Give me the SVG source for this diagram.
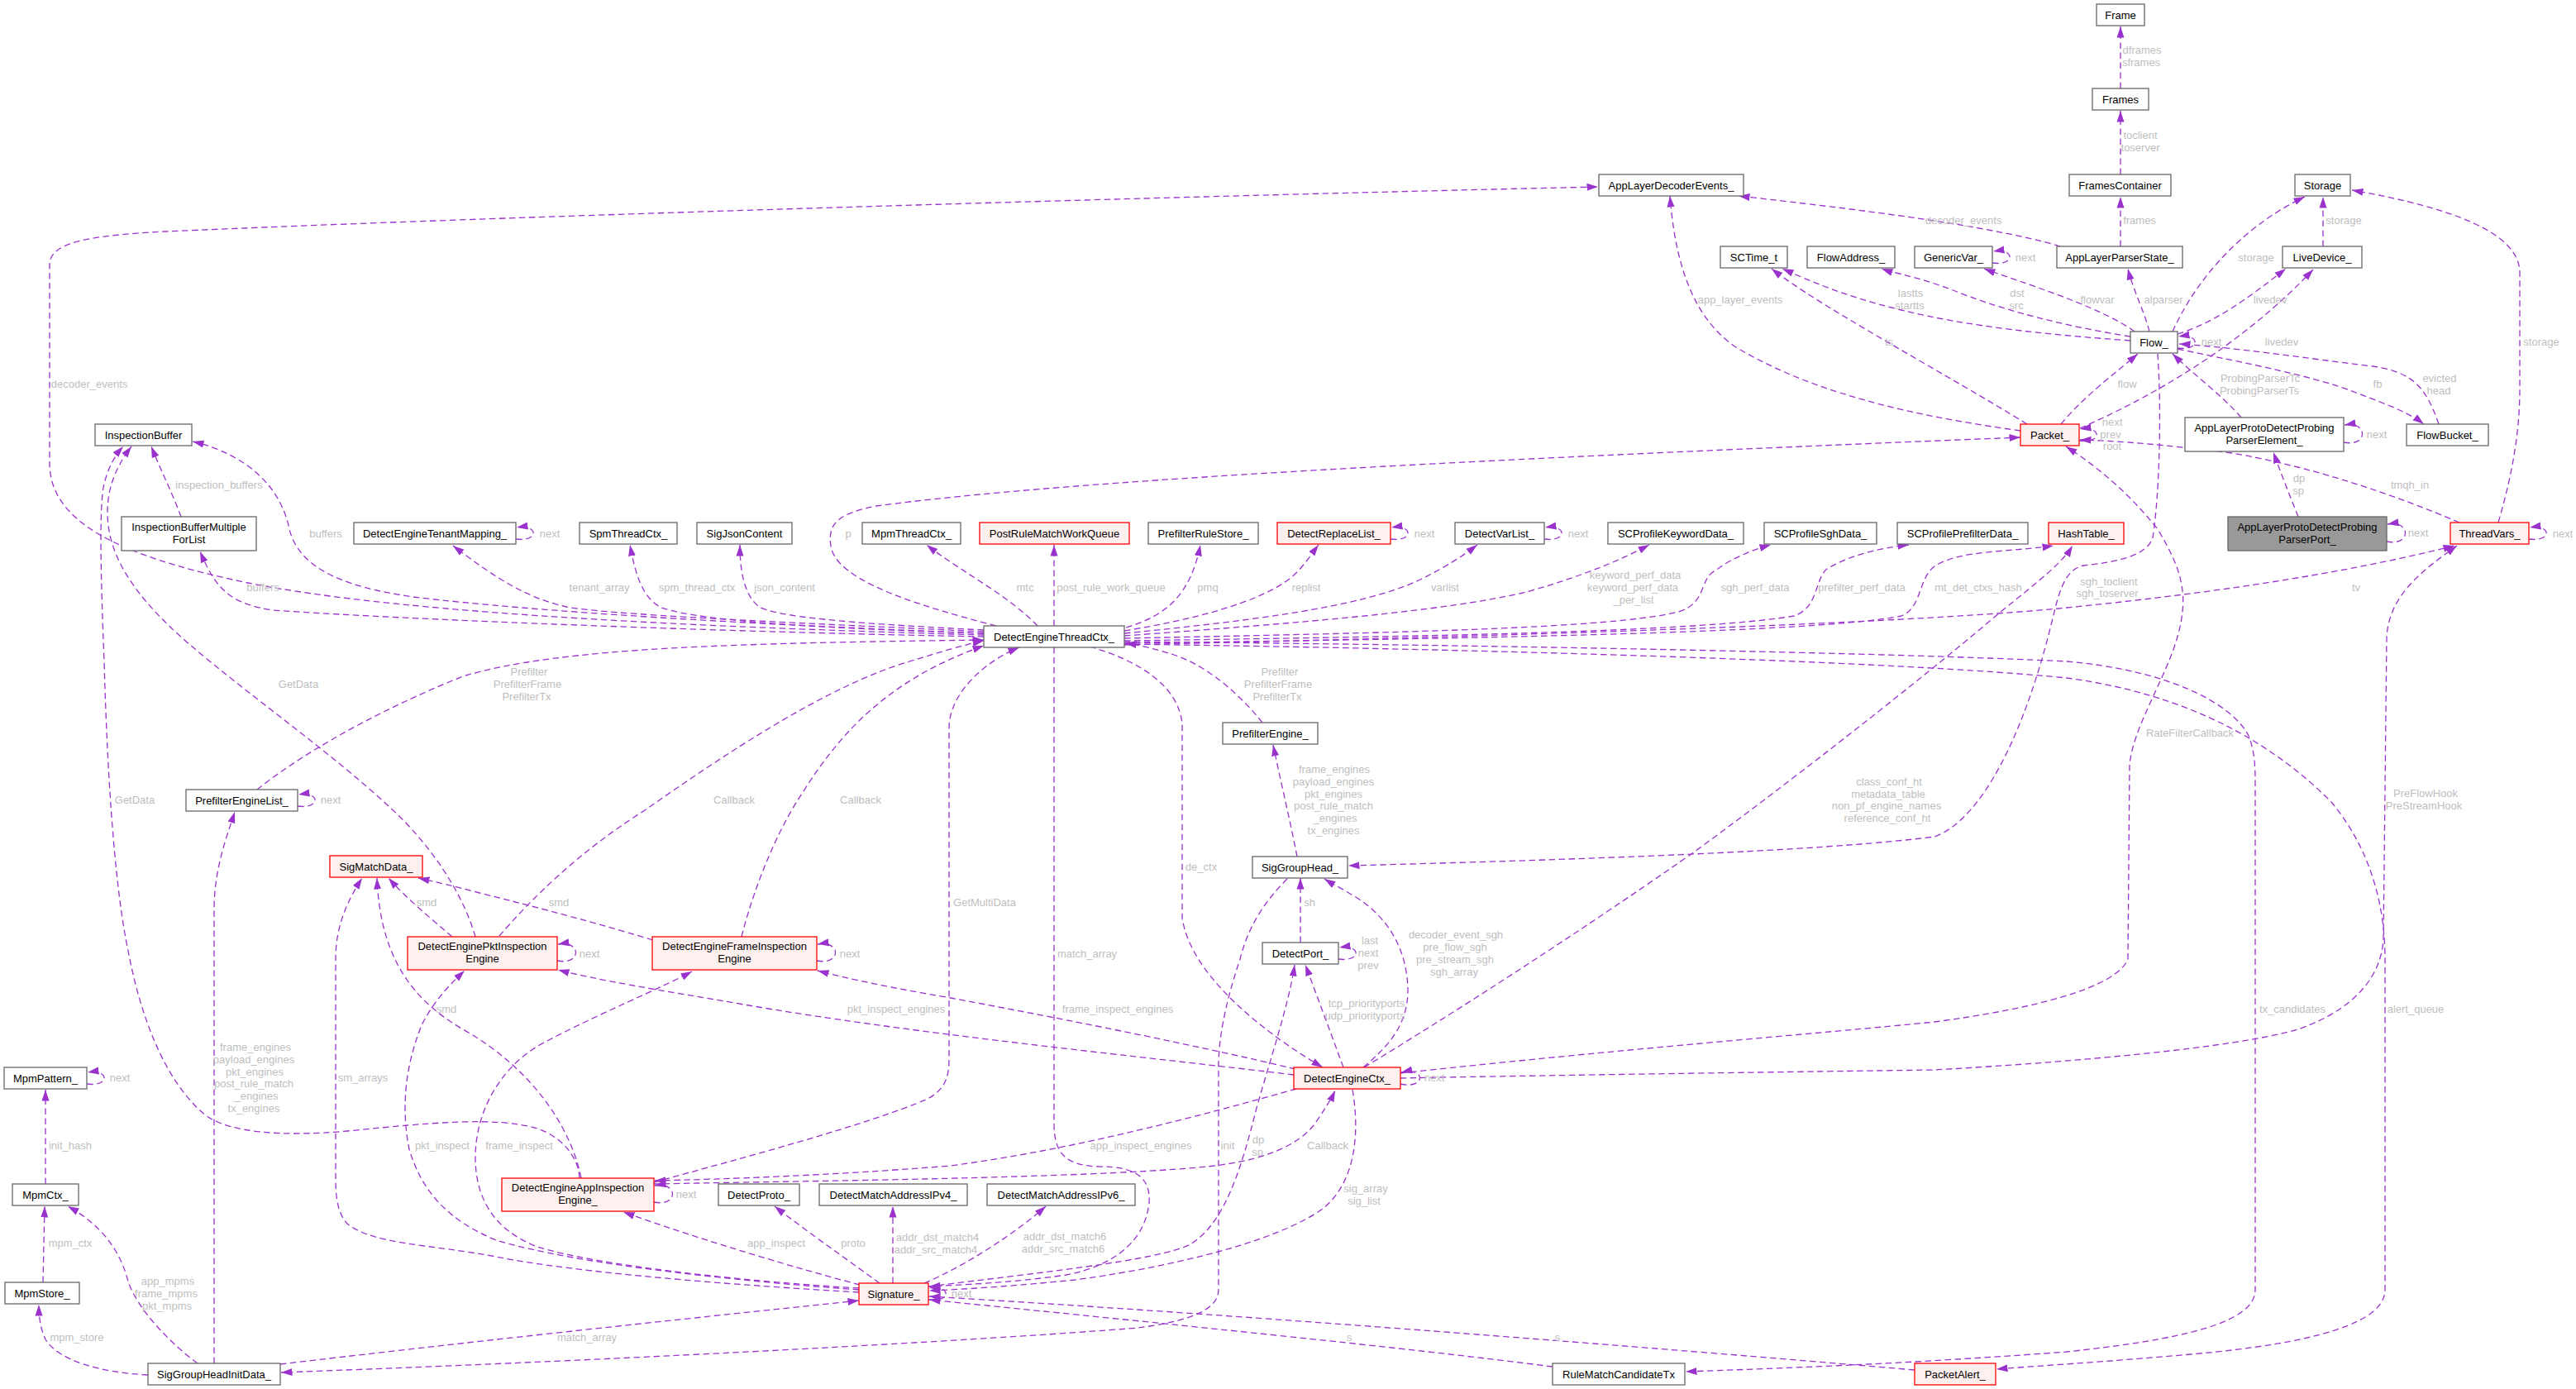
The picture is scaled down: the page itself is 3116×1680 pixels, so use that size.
<svg xmlns="http://www.w3.org/2000/svg" width="3116" height="1680" viewBox="0 0 3116 1680">
<style>
.nd rect{fill:#ffffff;stroke:#666666;stroke-width:1.3}
.nd.r rect{fill:#fff0f0;stroke:#ff0000}
.nd.g rect{fill:#999999;stroke:#666666}
.nd text{font-family:"Liberation Sans",Arial,sans-serif;font-size:13px;fill:#000000;text-anchor:middle}
#edges path{fill:none;stroke:#9a32cd;stroke-width:1.3;stroke-dasharray:7.5,4.5;marker-end:url(#ah)}
#labels text{font-family:"Liberation Sans",Arial,sans-serif;font-size:13px;fill:#bebebe;text-anchor:middle}
</style>
<defs>
<marker id="ah" viewBox="0 0 14 10" refX="13.5" refY="5" markerWidth="14" markerHeight="10" orient="auto" markerUnits="userSpaceOnUse"><path d="M0,0.5 L13.5,5 L0,9.5 z" fill="#9a32cd"/></marker>
</defs>
<rect width="3116" height="1680" fill="#ffffff"/>
<g id="edges">
<path d="M2565,107 L2565,32"/>
<path d="M2565,211 L2565,134"/>
<path d="M2565,298 L2565,238"/>
<path d="M2492,298 C2400,270 2200,248 2103,237"/>
<path d="M2810,298 L2810,238"/>
<path d="M2628,401 C2660,330 2720,270 2788,238"/>
<path d="M3022,632 C3040,570 3048,520 3048,470 L3048,330 C3048,280 2960,250 2845,230"/>
<path d="M2577,412 C2480,405 2380,395 2300,375 C2230,358 2190,340 2156,325"/>
<path d="M2452,513 C2350,450 2200,370 2143,325"/>
<path d="M2577,407 C2500,395 2420,375 2360,350 C2320,335 2290,330 2276,325"/>
<path d="M2582,401 C2540,370 2440,340 2400,325"/>
<path d="M2410,318 C2438,322 2438,300 2411,304"/>
<path d="M2600,401 C2595,380 2580,350 2574,325"/>
<path d="M2634,404 C2680,390 2720,360 2765,325"/>
<path d="M2516,518 C2580,490 2700,430 2798,326"/>
<path d="M2634,421 C2662,425 2662,403 2635,407"/>
<path d="M2493,513 C2520,480 2560,450 2586,428"/>
<path d="M2711,505 C2690,480 2650,450 2628,428"/>
<path d="M2950,513 C2935,470 2920,450 2870,443 C2780,432 2700,420 2636,416"/>
<path d="M2634,422 C2720,440 2800,455 2850,475 C2890,490 2915,500 2932,513"/>
<path d="M2515,533 C2543,537 2543,515 2516,519"/>
<path d="M2444,521 C2330,505 2200,480 2100,420 C2040,380 2025,300 2020,237"/>
<path d="M1190,768 C900,760 500,745 300,705 C140,672 60,630 60,560 L60,320 C60,295 100,285 200,280 C600,262 1400,238 1933,226"/>
<path d="M1205,757 C1100,730 1010,700 1005,660 C1000,630 1020,620 1060,612 C1300,580 1800,555 2444,529"/>
<path d="M2975,632 C2900,600 2800,565 2700,548 C2620,538 2560,533 2516,532"/>
<path d="M2835,535 C2865,541 2865,509 2836,514"/>
<path d="M2780,625 C2770,600 2758,570 2750,547"/>
<path d="M2887,655 C2917,661 2917,629 2888,634"/>
<path d="M3059,652 C3087,656 3087,634 3060,638"/>
<path d="M1190,766 C900,755 650,740 500,722 C400,708 360,680 350,640 C340,590 300,550 233,534"/>
<path d="M1190,770 C900,765 500,750 330,738 C280,730 262,715 242,667"/>
<path d="M219,625 C210,600 195,570 183,540"/>
<path d="M1190,764 C1000,755 760,745 690,735 C640,725 600,700 548,660"/>
<path d="M624,652 C652,656 652,634 625,638"/>
<path d="M1190,766 C1000,760 850,752 800,735 C775,722 768,690 762,659"/>
<path d="M1190,762 C1050,755 950,748 920,735 C900,722 895,690 895,659"/>
<path d="M1255,757 C1220,720 1160,690 1121,659"/>
<path d="M1275,757 L1275,659"/>
<path d="M1362,759 C1410,745 1440,720 1452,659"/>
<path d="M1360,763 C1440,750 1520,730 1560,700 C1575,688 1585,672 1595,659"/>
<path d="M1682,652 C1710,656 1710,634 1683,638"/>
<path d="M1360,766 C1500,752 1650,735 1720,700 C1750,685 1770,672 1787,659"/>
<path d="M1868,652 C1896,656 1896,634 1869,638"/>
<path d="M1360,769 C1550,755 1750,740 1850,715 C1920,695 1965,675 1995,659"/>
<path d="M1360,772 C1700,765 1950,760 2030,740 C2065,730 2055,700 2075,690 C2095,675 2120,665 2142,659"/>
<path d="M1360,775 C1700,770 2050,765 2170,745 C2200,735 2195,700 2210,688 C2240,670 2280,662 2309,659"/>
<path d="M1360,778 C1800,772 2200,765 2300,745 C2325,735 2320,700 2340,685 C2370,665 2430,668 2484,660"/>
<path d="M1360,780 C1800,770 2300,755 2500,735 C2700,715 2850,690 2969,660"/>
<path d="M1650,1291 C1800,1200 1950,1100 2050,1030 C2200,920 2350,800 2420,740 C2470,700 2495,680 2507,660"/>
<path d="M2610,428 C2615,500 2612,600 2604,650 C2598,672 2560,680 2520,684 C2495,690 2490,720 2480,760 C2450,880 2400,990 2340,1012 C2200,1030 1900,1040 1631,1047"/>
<path d="M1694,1298 C1950,1270 2200,1250 2340,1236 C2460,1220 2560,1195 2574,1160 L2576,925 C2580,880 2620,820 2634,770 C2648,720 2640,690 2610,640 C2570,590 2530,560 2499,540"/>
<path d="M1694,1304 C1900,1300 2200,1296 2340,1294 C2500,1285 2700,1268 2780,1245 C2850,1220 2880,1180 2883,1137 L2887,770 C2890,720 2930,690 2972,660"/>
<path d="M1318,782 C1380,800 1425,830 1430,875 L1430,1110 C1440,1180 1530,1250 1600,1291"/>
<path d="M791,1430 C900,1400 1050,1360 1120,1330 C1145,1318 1148,1300 1148,1280 L1148,880 C1148,840 1190,800 1233,783"/>
<path d="M604,1132 C640,1090 700,1030 780,980 C880,910 1000,830 1100,800 C1140,788 1165,780 1190,775"/>
<path d="M897,1133 C905,1100 930,1020 970,960 C1020,880 1080,820 1190,781"/>
<path d="M311,955 C380,900 480,850 560,818 C680,782 900,778 1190,774"/>
<path d="M1527,874 C1500,840 1460,805 1420,792 C1400,786 1380,780 1361,778"/>
<path d="M360,975 C388,979 388,957 361,961"/>
<path d="M1569,1036 C1560,990 1548,940 1540,901"/>
<path d="M1573,1140 L1573,1062"/>
<path d="M1619,1160 C1647,1164 1647,1142 1620,1146"/>
<path d="M1649,1291 C1680,1265 1702,1240 1703,1200 C1703,1150 1680,1110 1640,1085 C1620,1073 1610,1068 1602,1063"/>
<path d="M1625,1291 C1610,1250 1595,1210 1579,1167"/>
<path d="M1123,1556 C1250,1540 1400,1525 1440,1505 C1480,1480 1500,1420 1520,1340 C1540,1270 1560,1210 1566,1167"/>
<path d="M1557,1063 C1530,1090 1510,1120 1500,1160 C1480,1220 1474,1260 1474,1290 L1474,1560 C1474,1590 1420,1600 1377,1606 C1200,1620 800,1643 340,1660"/>
<path d="M339,1650 C550,1625 800,1598 1039,1573"/>
<path d="M1275,783 L1275,1360 C1275,1400 1295,1410 1330,1411 C1375,1411 1392,1425 1390,1455 C1385,1500 1350,1530 1290,1542 C1220,1552 1160,1554 1124,1556"/>
<path d="M1123,1572 C1151,1576 1151,1554 1124,1558"/>
<path d="M1064,1552 C1020,1520 970,1485 937,1459"/>
<path d="M1080,1552 L1080,1459"/>
<path d="M1118,1552 C1170,1530 1230,1490 1265,1459"/>
<path d="M1040,1554 C950,1530 850,1500 754,1466"/>
<path d="M1636,1318 C1645,1370 1640,1430 1600,1462 C1540,1505 1400,1535 1300,1548 C1200,1558 1150,1560 1124,1561"/>
<path d="M791,1432 C1000,1428 1300,1425 1450,1412 C1530,1405 1570,1385 1590,1360 C1600,1345 1610,1330 1615,1319"/>
<path d="M1568,1317 C1450,1350 1300,1390 1150,1410 C1000,1422 880,1426 792,1428"/>
<path d="M1565,1300 C1400,1280 1100,1250 900,1215 C800,1198 720,1185 675,1173"/>
<path d="M1567,1293 C1450,1265 1300,1235 1150,1207 C1080,1195 1030,1185 989,1174"/>
<path d="M674,1162 C704,1168 704,1137 675,1142"/>
<path d="M988,1162 C1018,1168 1018,1137 989,1142"/>
<path d="M547,1133 C520,1110 490,1085 470,1062"/>
<path d="M790,1137 C700,1110 620,1090 580,1080 C550,1072 525,1066 506,1062"/>
<path d="M703,1425 C690,1360 640,1290 560,1245 C500,1210 460,1160 456,1062"/>
<path d="M1039,1563 C900,1555 700,1540 600,1520 C520,1505 450,1505 420,1480 C406,1465 406,1440 406,1420 L406,1160 C406,1120 420,1090 438,1062"/>
<path d="M575,1133 C560,1080 520,1020 470,975 C400,910 300,840 230,780 C160,720 130,670 130,620 C130,590 140,565 159,540"/>
<path d="M701,1425 C700,1400 680,1375 650,1365 C600,1350 520,1358 420,1368 C340,1375 280,1370 250,1350 C200,1310 170,1230 155,1150 C140,1080 130,950 126,800 C122,700 120,620 125,590 C130,565 140,550 149,540"/>
<path d="M791,1454 C821,1460 821,1429 792,1434"/>
<path d="M1039,1560 C900,1550 700,1530 600,1500 C540,1475 510,1440 495,1390 C485,1340 490,1290 510,1240 C525,1210 545,1190 562,1174"/>
<path d="M1039,1558 C900,1550 720,1530 650,1508 C590,1485 575,1440 575,1400 C575,1340 610,1285 660,1260 C720,1228 800,1195 837,1175"/>
<path d="M105,1311 C133,1315 133,1293 106,1297"/>
<path d="M55,1432 L55,1318"/>
<path d="M52,1551 L54,1459"/>
<path d="M179,1663 C120,1660 70,1645 55,1620 C48,1605 47,1590 47,1578"/>
<path d="M239,1649 C200,1620 165,1580 155,1550 C145,1510 120,1480 82,1459"/>
<path d="M259,1649 L259,1100 C259,1050 275,1010 284,982"/>
<path d="M1878,1653 C1700,1630 1400,1600 1124,1572"/>
<path d="M2316,1657 C2000,1630 1500,1590 1124,1568"/>
<path d="M1360,776 C1800,780 2300,790 2500,800 C2620,810 2700,850 2720,890 C2728,910 2728,930 2728,950 L2728,1560 C2728,1600 2640,1620 2500,1635 C2300,1650 2150,1655 2039,1659"/>
<path d="M1360,779 C1800,785 2300,800 2500,820 C2650,840 2750,900 2820,970 C2870,1030 2885,1100 2885,1160 L2885,1560 C2885,1600 2800,1625 2650,1638 C2550,1647 2450,1653 2415,1656"/>
<path d="M1694,1311 C1725,1318 1725,1290 1695,1297"/>
</g>
<g id="labels">
<text x="2591" y="65">dframes</text><text x="2590" y="80">sframes</text>
<text x="2589" y="168">toclient</text><text x="2589" y="183">toserver</text>
<text x="2588" y="271">frames</text>
<text x="2375" y="271">decoder_events</text>
<text x="2835" y="271">storage</text>
<text x="2729" y="316">storage</text>
<text x="3074" y="418">storage</text>
<text x="2311" y="359">lastts</text><text x="2310" y="374">startts</text>
<text x="2285" y="418">ts</text>
<text x="2440" y="359">dst</text><text x="2439" y="374">src</text>
<text x="2537" y="367">flowvar</text>
<text x="2450" y="316">next</text>
<text x="2617" y="367">alparser</text>
<text x="2746" y="367">livedev</text>
<text x="2760" y="418">livedev</text>
<text x="2675" y="418">next</text>
<text x="2573" y="469">flow</text>
<text x="2734" y="462">ProbingParserTc</text><text x="2733" y="477">ProbingParserTs</text>
<text x="2951" y="462">evicted</text><text x="2950" y="477">head</text>
<text x="2876" y="469">fb</text>
<text x="2555" y="515">next</text><text x="2553" y="530">prev</text><text x="2555" y="544">root</text>
<text x="2105" y="367">app_layer_events</text>
<text x="108" y="469">decoder_events</text>
<text x="1026" y="650">p</text>
<text x="2915" y="591">tmqh_in</text>
<text x="2875" y="530">next</text>
<text x="2781" y="583">dp</text><text x="2780" y="598">sp</text>
<text x="2925" y="649">next</text>
<text x="3100" y="650">next</text>
<text x="394" y="650">buffers</text>
<text x="318" y="715">buffers</text>
<text x="265" y="591">inspection_buffers</text>
<text x="725" y="715">tenant_array</text>
<text x="665" y="650">next</text>
<text x="843" y="715">spm_thread_ctx</text>
<text x="949" y="715">json_content</text>
<text x="1240" y="715">mtc</text>
<text x="1344" y="715">post_rule_work_queue</text>
<text x="1461" y="715">pmq</text>
<text x="1580" y="715">replist</text>
<text x="1723" y="650">next</text>
<text x="1748" y="715">varlist</text>
<text x="1909" y="650">next</text>
<text x="1978" y="700">keyword_perf_data</text><text x="1975" y="715">keyword_perf_data</text><text x="1976" y="730">_per_list</text>
<text x="2123" y="715">sgh_perf_data</text>
<text x="2252" y="715">prefilter_perf_data</text>
<text x="2393" y="715">mt_det_ctxs_hash</text>
<text x="2850" y="715">tv</text>
<text x="2285" y="950">class_conf_ht</text><text x="2284" y="965">metadata_table</text><text x="2282" y="979">non_pf_engine_names</text><text x="2283" y="994">reference_conf_ht</text>
<text x="2551" y="708">sgh_toclient</text><text x="2549" y="722">sgh_toserver</text>
<text x="2649" y="891">RateFilterCallback</text>
<text x="2934" y="964">PreFlowHook</text><text x="2932" y="979">PreStreamHook</text>
<text x="1453" y="1053">de_ctx</text>
<text x="1191" y="1096">GetMultiData</text>
<text x="888" y="972">Callback</text>
<text x="1041" y="972">Callback</text>
<text x="640" y="817">Prefilter</text><text x="638" y="832">PrefilterFrame</text><text x="637" y="847">PrefilterTx</text>
<text x="1548" y="817">Prefilter</text><text x="1546" y="832">PrefilterFrame</text><text x="1545" y="847">PrefilterTx</text>
<text x="400" y="972">next</text>
<text x="1614" y="935">frame_engines</text><text x="1613" y="950">payload_engines</text><text x="1613" y="965">pkt_engines</text><text x="1613" y="979">post_rule_match</text><text x="1615" y="994">_engines</text><text x="1613" y="1009">tx_engines</text>
<text x="1584" y="1096">sh</text>
<text x="1657" y="1142">last</text><text x="1655" y="1157">next</text><text x="1655" y="1172">prev</text>
<text x="1761" y="1135">decoder_event_sgh</text><text x="1760" y="1150">pre_flow_sgh</text><text x="1760" y="1165">pre_stream_sgh</text><text x="1759" y="1180">sgh_array</text>
<text x="1653" y="1218">tcp_priorityports</text><text x="1651" y="1233">udp_priorityports</text>
<text x="1522" y="1383">dp</text><text x="1521" y="1398">sp</text>
<text x="1485" y="1390">init</text>
<text x="710" y="1622">match_array</text>
<text x="1315" y="1158">match_array</text>
<text x="1163" y="1569">next</text>
<text x="1032" y="1508">proto</text>
<text x="1134" y="1501">addr_dst_match4</text><text x="1132" y="1516">addr_src_match4</text>
<text x="1288" y="1500">addr_dst_match6</text><text x="1286" y="1515">addr_src_match6</text>
<text x="939" y="1508">app_inspect</text>
<text x="1652" y="1442">sig_array</text><text x="1650" y="1457">sig_list</text>
<text x="1606" y="1390">Callback</text>
<text x="1380" y="1390">app_inspect_engines</text>
<text x="1084" y="1225">pkt_inspect_engines</text>
<text x="1352" y="1225">frame_inspect_engines</text>
<text x="713" y="1158">next</text>
<text x="1028" y="1158">next</text>
<text x="516" y="1096">smd</text>
<text x="676" y="1096">smd</text>
<text x="540" y="1225">smd</text>
<text x="439" y="1308">sm_arrays</text>
<text x="361" y="832">GetData</text>
<text x="163" y="972">GetData</text>
<text x="830" y="1449">next</text>
<text x="535" y="1390">pkt_inspect</text>
<text x="628" y="1390">frame_inspect</text>
<text x="145" y="1308">next</text>
<text x="85" y="1390">init_hash</text>
<text x="85" y="1508">mpm_ctx</text>
<text x="93" y="1622">mpm_store</text>
<text x="203" y="1554">app_mpms</text><text x="201" y="1569">frame_mpms</text><text x="202" y="1584">pkt_mpms</text>
<text x="309" y="1271">frame_engines</text><text x="307" y="1286">payload_engines</text><text x="308" y="1301">pkt_engines</text><text x="307" y="1315">post_rule_match</text><text x="310" y="1330">_engines</text><text x="307" y="1345">tx_engines</text>
<text x="1632" y="1622">s</text>
<text x="1884" y="1622">s</text>
<text x="2773" y="1225">tx_candidates</text>
<text x="2922" y="1225">alert_queue</text>
<text x="1735" y="1308">next</text>
</g>
<g id="n-Frame" class="nd"><rect x="2536" y="5" width="58" height="26"/><text x="2565" y="22.5">Frame</text></g>
<g id="n-Frames" class="nd"><rect x="2531" y="107" width="68" height="26"/><text x="2565" y="124.5">Frames</text></g>
<g id="n-FramesContainer" class="nd"><rect x="2503" y="211" width="123" height="26"/><text x="2564.5" y="228.5">FramesContainer</text></g>
<g id="n-AppLayerDecoderEvents" class="nd"><rect x="1934" y="211" width="175" height="26"/><text x="2021.5" y="228.5">AppLayerDecoderEvents_</text></g>
<g id="n-Storage" class="nd"><rect x="2776" y="211" width="67" height="26"/><text x="2809.5" y="228.5">Storage</text></g>
<g id="n-SCTime" class="nd"><rect x="2081" y="298" width="81" height="26"/><text x="2121.5" y="315.5">SCTime_t</text></g>
<g id="n-FlowAddress" class="nd"><rect x="2186" y="298" width="106" height="26"/><text x="2239" y="315.5">FlowAddress_</text></g>
<g id="n-GenericVar" class="nd"><rect x="2316" y="298" width="94" height="26"/><text x="2363" y="315.5">GenericVar_</text></g>
<g id="n-AppLayerParserState" class="nd"><rect x="2488" y="298" width="152" height="26"/><text x="2564" y="315.5">AppLayerParserState_</text></g>
<g id="n-LiveDevice" class="nd"><rect x="2761" y="298" width="96" height="26"/><text x="2809" y="315.5">LiveDevice_</text></g>
<g id="n-Flow" class="nd"><rect x="2577" y="401" width="57" height="26"/><text x="2605.5" y="418.5">Flow_</text></g>
<g id="n-Packet" class="nd r"><rect x="2444" y="513" width="71" height="26"/><text x="2479.5" y="530.5">Packet_</text></g>
<g id="n-ProbingParserElement" class="nd"><rect x="2643" y="505" width="192" height="41"/><text x="2739" y="521.5">AppLayerProtoDetectProbing</text><text x="2739" y="536.5">ParserElement_</text></g>
<g id="n-FlowBucket" class="nd"><rect x="2911" y="513" width="99" height="26"/><text x="2960.5" y="530.5">FlowBucket_</text></g>
<g id="n-InspectionBuffer" class="nd"><rect x="115" y="513" width="117" height="26"/><text x="173.5" y="530.5">InspectionBuffer</text></g>
<g id="n-InspectionBufferMultipleForList" class="nd"><rect x="147" y="625" width="163" height="41"/><text x="228.5" y="641.5">InspectionBufferMultiple</text><text x="228.5" y="656.5">ForList</text></g>
<g id="n-DetectEngineTenantMapping" class="nd"><rect x="428" y="632" width="196" height="26"/><text x="526" y="649.5">DetectEngineTenantMapping_</text></g>
<g id="n-SpmThreadCtx" class="nd"><rect x="701" y="632" width="118" height="26"/><text x="760" y="649.5">SpmThreadCtx_</text></g>
<g id="n-SigJsonContent" class="nd"><rect x="843" y="632" width="115" height="26"/><text x="900.5" y="649.5">SigJsonContent</text></g>
<g id="n-MpmThreadCtx" class="nd"><rect x="1043" y="632" width="119" height="26"/><text x="1102.5" y="649.5">MpmThreadCtx_</text></g>
<g id="n-PostRuleMatchWorkQueue" class="nd r"><rect x="1185" y="632" width="181" height="26"/><text x="1275.5" y="649.5">PostRuleMatchWorkQueue</text></g>
<g id="n-PrefilterRuleStore" class="nd"><rect x="1389" y="632" width="133" height="26"/><text x="1455.5" y="649.5">PrefilterRuleStore_</text></g>
<g id="n-DetectReplaceList" class="nd r"><rect x="1545" y="632" width="137" height="26"/><text x="1613.5" y="649.5">DetectReplaceList_</text></g>
<g id="n-DetectVarList" class="nd"><rect x="1760" y="632" width="108" height="26"/><text x="1814" y="649.5">DetectVarList_</text></g>
<g id="n-SCProfileKeywordData" class="nd"><rect x="1945" y="632" width="164" height="26"/><text x="2027" y="649.5">SCProfileKeywordData_</text></g>
<g id="n-SCProfileSghData" class="nd"><rect x="2134" y="632" width="136" height="26"/><text x="2202" y="649.5">SCProfileSghData_</text></g>
<g id="n-SCProfilePrefilterData" class="nd"><rect x="2295" y="632" width="158" height="26"/><text x="2374" y="649.5">SCProfilePrefilterData_</text></g>
<g id="n-HashTable" class="nd r"><rect x="2478" y="632" width="91" height="26"/><text x="2523.5" y="649.5">HashTable_</text></g>
<g id="n-ProbingParserPort" class="nd g"><rect x="2695" y="625" width="192" height="41"/><text x="2791" y="641.5">AppLayerProtoDetectProbing</text><text x="2791" y="656.5">ParserPort_</text></g>
<g id="n-ThreadVars" class="nd r"><rect x="2964" y="632" width="95" height="26"/><text x="3011.5" y="649.5">ThreadVars_</text></g>
<g id="n-DetectEngineThreadCtx" class="nd"><rect x="1190" y="757" width="170" height="26"/><text x="1275" y="774.5">DetectEngineThreadCtx_</text></g>
<g id="n-PrefilterEngineList" class="nd"><rect x="225" y="955" width="135" height="26"/><text x="292.5" y="972.5">PrefilterEngineList_</text></g>
<g id="n-PrefilterEngine" class="nd"><rect x="1479" y="874" width="115" height="26"/><text x="1536.5" y="891.5">PrefilterEngine_</text></g>
<g id="n-SigMatchData" class="nd r"><rect x="399" y="1035" width="112" height="26"/><text x="455" y="1052.5">SigMatchData_</text></g>
<g id="n-SigGroupHead" class="nd"><rect x="1515" y="1036" width="115" height="26"/><text x="1572.5" y="1053.5">SigGroupHead_</text></g>
<g id="n-DetectPort" class="nd"><rect x="1527" y="1140" width="92" height="26"/><text x="1573" y="1157.5">DetectPort_</text></g>
<g id="n-DetectEnginePktInspectionEngine" class="nd r"><rect x="493" y="1133" width="181" height="40"/><text x="583.5" y="1149">DetectEnginePktInspection</text><text x="583.5" y="1164">Engine</text></g>
<g id="n-DetectEngineFrameInspectionEngine" class="nd r"><rect x="789" y="1133" width="199" height="40"/><text x="888.5" y="1149">DetectEngineFrameInspection</text><text x="888.5" y="1164">Engine</text></g>
<g id="n-MpmPattern" class="nd"><rect x="5" y="1291" width="100" height="26"/><text x="55" y="1308.5">MpmPattern_</text></g>
<g id="n-DetectEngineCtx" class="nd r"><rect x="1565" y="1291" width="129" height="26"/><text x="1629.5" y="1308.5">DetectEngineCtx_</text></g>
<g id="n-MpmCtx" class="nd"><rect x="15" y="1432" width="80" height="26"/><text x="55" y="1449.5">MpmCtx_</text></g>
<g id="n-DetectEngineAppInspectionEngine" class="nd r"><rect x="607" y="1425" width="184" height="40"/><text x="699" y="1441">DetectEngineAppInspection</text><text x="699" y="1456">Engine_</text></g>
<g id="n-DetectProto" class="nd"><rect x="869" y="1432" width="98" height="26"/><text x="918" y="1449.5">DetectProto_</text></g>
<g id="n-DetectMatchAddressIPv4" class="nd"><rect x="991" y="1432" width="179" height="26"/><text x="1080.5" y="1449.5">DetectMatchAddressIPv4_</text></g>
<g id="n-DetectMatchAddressIPv6" class="nd"><rect x="1194" y="1432" width="179" height="26"/><text x="1283.5" y="1449.5">DetectMatchAddressIPv6_</text></g>
<g id="n-MpmStore" class="nd"><rect x="6" y="1551" width="90" height="26"/><text x="51" y="1568.5">MpmStore_</text></g>
<g id="n-Signature" class="nd r"><rect x="1039" y="1552" width="84" height="26"/><text x="1081" y="1569.5">Signature_</text></g>
<g id="n-SigGroupHeadInitData" class="nd"><rect x="179" y="1649" width="160" height="26"/><text x="259" y="1666.5">SigGroupHeadInitData_</text></g>
<g id="n-RuleMatchCandidateTx" class="nd"><rect x="1878" y="1649" width="160" height="26"/><text x="1958" y="1666.5">RuleMatchCandidateTx</text></g>
<g id="n-PacketAlert" class="nd r"><rect x="2316" y="1649" width="98" height="26"/><text x="2365" y="1666.5">PacketAlert_</text></g>
</svg>
